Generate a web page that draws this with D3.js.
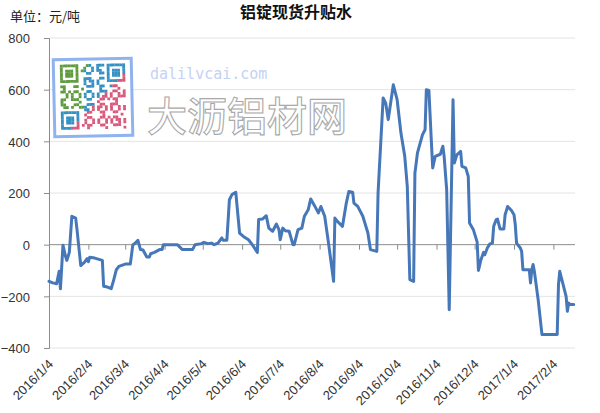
<!DOCTYPE html>
<html><head><meta charset="utf-8">
<script src="https://cdn.jsdelivr.net/npm/d3@7/dist/d3.min.js"></script>
<style>
html,body{margin:0;padding:0;background:#fff;}
svg{display:block;}
</style></head>
<body>
<svg id="chart" width="600" height="413"></svg>
<script>
const chartTitle = "铝锭现货升贴水";
const unitLabel = "单位：元/吨";
const yTickValues = [800, 600, 400, 200, 0, -200, -400];
const xTickLabels = ["2016/1/4","2016/2/4","2016/3/4","2016/4/4","2016/5/4","2016/6/4","2016/7/4","2016/8/4","2016/9/4","2016/10/4","2016/11/4","2016/12/4","2017/1/4","2017/2/4"];
const dates = [
"2016-01-04","2016-01-07","2016-01-10","2016-01-12","2016-01-13","2016-01-15","2016-01-17","2016-01-18","2016-01-20","2016-01-22",
"2016-01-25","2016-01-26","2016-01-29","2016-02-01","2016-02-03","2016-02-04","2016-02-05","2016-02-09","2016-02-13","2016-02-15",
"2016-02-16","2016-02-19","2016-02-22","2016-02-24","2016-02-26","2016-02-28","2016-03-04","2016-03-08","2016-03-10","2016-03-12",
"2016-03-14","2016-03-16","2016-03-18","2016-03-21","2016-03-23","2016-03-24","2016-03-27","2016-03-31","2016-04-02","2016-04-03",
"2016-04-14","2016-04-18","2016-04-26","2016-04-28","2016-05-03","2016-05-05","2016-05-08","2016-05-11","2016-05-13","2016-05-16",
"2016-05-19","2016-05-20","2016-05-23","2016-05-25","2016-05-27","2016-05-30","2016-06-02","2016-06-05","2016-06-09","2016-06-12",
"2016-06-16","2016-06-17","2016-06-20","2016-06-23","2016-06-25","2016-06-28","2016-07-01","2016-07-03","2016-07-04","2016-07-06",
"2016-07-08","2016-07-11","2016-07-14","2016-07-15","2016-07-18","2016-07-21","2016-07-23","2016-07-26","2016-07-28","2016-07-31",
"2016-08-03","2016-08-05","2016-08-08","2016-08-11","2016-08-15","2016-08-16","2016-08-18","2016-08-22","2016-08-25","2016-08-27",
"2016-08-30","2016-08-31","2016-09-03","2016-09-07","2016-09-11","2016-09-13","2016-09-18","2016-09-19","2016-09-23","2016-09-25",
"2016-09-27","2016-10-01","2016-10-04","2016-10-07","2016-10-10","2016-10-12","2016-10-14","2016-10-17","2016-10-18","2016-10-20",
"2016-10-24","2016-10-26","2016-10-27","2016-10-29","2016-10-31","2016-11-01","2016-11-03","2016-11-07","2016-11-09","2016-11-10",
"2016-11-12","2016-11-14","2016-11-17","2016-11-18","2016-11-20","2016-11-23","2016-11-24","2016-11-27","2016-11-29","2016-11-30",
"2016-12-03","2016-12-06","2016-12-07","2016-12-09","2016-12-11","2016-12-12","2016-12-14","2016-12-16","2016-12-18","2016-12-19",
"2016-12-21","2016-12-22","2016-12-24","2016-12-27","2016-12-28","2016-12-30","2017-01-02","2017-01-04","2017-01-05","2017-01-06",
"2017-01-09","2017-01-10","2017-01-11","2017-01-16","2017-01-17","2017-01-18","2017-01-19","2017-01-20","2017-01-23","2017-01-26",
"2017-02-07","2017-02-08","2017-02-09","2017-02-11","2017-02-13","2017-02-14","2017-02-15","2017-02-16","2017-02-17","2017-02-20"
];
const values = [
-142,-148,-151,-103,-171,-2,-45,-61,-30,110,
103,60,-81,-68,-54,-66,-49,-52,-58,-61,
-161,-164,-170,-135,-97,-84,-75,-75,0,6,
17,-19,-21,-48,-48,-35,-30,-19,-19,0,
0,-19,-19,0,4,9,4,6,0,6,
26,17,17,174,194,203,45,32,19,0,
-30,97,99,112,64,52,80,58,19,64,
54,52,0,0,58,64,110,135,177,151,
123,148,110,6,-142,103,90,71,161,206,
203,161,148,110,45,-19,-26,200,568,548,
484,619,561,432,342,226,-135,-142,277,355,
426,445,600,597,394,297,342,350,381,342,
213,-252,561,316,348,361,303,297,264,84,
58,10,-100,-58,-30,-39,-13,3,6,71,
97,99,61,61,116,148,132,116,77,6,
-13,-26,-97,-97,-148,-97,-77,-103,-213,-348,
-348,-155,-103,-142,-181,-200,-258,-226,-232,-232
];
const axisStart = "2016-01-04";
const axisEnd = "2017-02-21";

const parse = d3.timeParse("%Y-%m-%d");
const parseLabel = d3.timeParse("%Y/%m/%d");
const data = dates.map((d,i)=>({date: parse(d), value: values[i]}));

const svg = d3.select("#chart");
const L = 49, R = 575, T = 38, B = 348;
const x = d3.scaleTime().domain([parse(axisStart), parse(axisEnd)]).range([L, R]);
const y = d3.scaleLinear().domain([-400, 800]).range([B, T]);

// gridlines
svg.append("g").selectAll("line").data(yTickValues.filter(v=>v!==0)).join("line")
  .attr("x1", L).attr("x2", R).attr("y1", d=>y(d)).attr("y2", d=>y(d))
  .attr("stroke", "#e4e4e4").attr("stroke-width", 1);

// watermark
const wm = svg.append("g");
wm.append("text").attr("x", 150).attr("y", 79)
  .attr("font-family", "DejaVu Sans Mono, monospace").attr("font-size", 15)
  .attr("fill", "#c4d2f3").text("dalilvcai.com");
wm.append("text").attr("x", 147).attr("y", 131)
  .attr("font-family", "Noto Sans CJK SC").attr("font-size", 40).attr("font-weight", 500)
  .attr("fill", "#ffffff").attr("stroke", "#a9a9a9").attr("stroke-width", 1.1)
  .text("大沥铝材网");

// QR-like badge
const qr = wm.append("g").attr("transform", "rotate(-1.2 93 97)");
qr.append("rect").attr("x", 54).attr("y", 59).attr("width", 78).attr("height", 77)
  .attr("fill", "#fff").attr("stroke", "#8fb3ee").attr("stroke-width", 3);
const N = 25, ms = 2.6, ox = 60.5, oy = 64;
function modColor(r, c){
  if (r + c > 27) return "#d9587b";
  if ((c < 9 && r < 17) || r + c < 11) return "#5f9c3f";
  return "#3590c3";
}
function isFinder(r, c){
  const inF = (r0,c0)=> r>=r0 && r<r0+7 && c>=c0 && c<c0+7;
  return inF(0,0) || inF(0,N-7) || inF(N-7,0);
}
function finderOn(r, c){
  const f = (r0,c0)=>{ const a=r-r0,b=c-c0; if(a<0||a>6||b<0||b>6) return null;
    const e = Math.max(Math.abs(a-3),Math.abs(b-3)); return e===3 || e<=1; };
  let v = f(0,0); if (v!==null) return v;
  v = f(0,N-7); if (v!==null) return v;
  return f(N-7,0);
}
const cells = [];
for (let r=0;r<N;r++) for (let c=0;c<N;c++){
  let on;
  if (isFinder(r,c)) on = finderOn(r,c);
  else if ((r===7 && c<8) || (c===7 && r<8) || (r===7 && c>=N-8) || (c===N-8 && r<8) || (r===N-8 && c<8) || (c===7 && r>=N-8)) on = false;
  else on = ((r*7 + c*11 + r*c) % 5) < 2 || ((r*c + r + 3*c) % 7 === 0);
  if (on) cells.push({r, c});
}
qr.selectAll("rect.m").data(cells).join("rect").attr("class","m")
  .attr("x", d=>ox + d.c*ms).attr("y", d=>oy + d.r*ms)
  .attr("width", ms+0.2).attr("height", ms+0.2)
  .attr("fill", d=>modColor(d.r, d.c));

// y axis
const yAxis = svg.append("g").attr("transform", `translate(${L},0)`)
  .call(d3.axisLeft(y).tickValues(yTickValues).tickSize(5).tickPadding(14).tickFormat(d3.format("d")));
yAxis.select(".domain").attr("stroke", "#8c8c8c");
yAxis.selectAll(".tick line").attr("stroke", "#8c8c8c");
yAxis.selectAll(".tick text").attr("font-family", "Liberation Sans, Arial, sans-serif")
  .attr("font-size", 13).attr("fill", "#333").attr("dy", "0.36em");

// zero category axis with monthly ticks
const tickDates = xTickLabels.map(s=>parseLabel(s));
const xAxis = svg.append("g").attr("transform", `translate(0,${y(0)})`)
  .call(d3.axisBottom(x).tickValues(tickDates).tickSize(5).tickFormat(""));
xAxis.select(".domain").attr("stroke", "#8c8c8c").attr("d", `M${L},0H${R}`);
xAxis.selectAll(".tick line").attr("stroke", "#8c8c8c");

// rotated labels at bottom
svg.append("g").selectAll("text").data(xTickLabels).join("text")
  .attr("transform", d=>`translate(${x(parseLabel(d))+5},${365}) rotate(-45)`)
  .attr("text-anchor", "end")
  .attr("font-family", "Liberation Sans, Arial, sans-serif").attr("font-size", 13)
  .attr("fill", "#333").text(d=>d);

// line
svg.append("path").datum(data)
  .attr("fill", "none").attr("stroke", "#4677b8").attr("stroke-width", 3)
  .attr("stroke-linejoin", "round").attr("stroke-linecap", "round")
  .attr("d", d3.line().x(d=>x(d.date)).y(d=>y(d.value)));

// titles
svg.append("text").attr("x", 296).attr("y", 18).attr("text-anchor", "middle")
  .attr("font-family", "Noto Sans CJK SC").attr("font-weight", "bold").attr("font-size", 16)
  .attr("fill", "#111").text(chartTitle);
svg.append("text").attr("x", 10).attr("y", 21)
  .attr("font-family", "Noto Sans CJK SC").attr("font-size", 13)
  .attr("fill", "#222").text(unitLabel);
</script>
</body></html>
